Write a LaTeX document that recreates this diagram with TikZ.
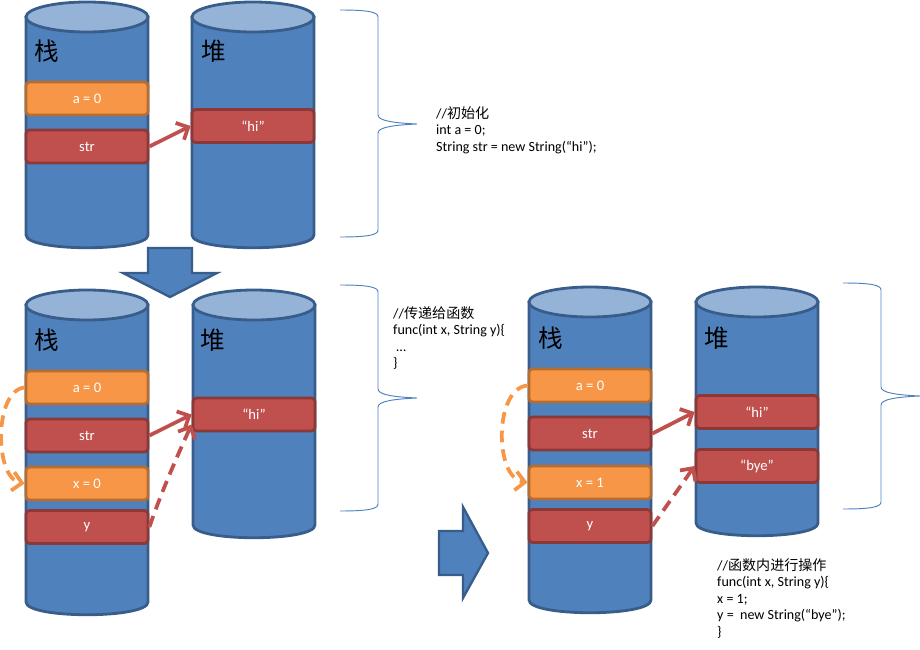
\documentclass[tikz,border=0pt]{standalone}
\usepackage{fontspec}
\setmainfont{Carlito}
\newfontfamily\cjk{Noto Sans CJK SC}
\usetikzlibrary{arrows.meta}

\definecolor{barrelfill}{HTML}{4F81BD}
\definecolor{barreledge}{HTML}{385D8A}
\definecolor{lidfill}{HTML}{95B3D7}
\definecolor{orangefill}{HTML}{F79646}
\definecolor{orangeedge}{HTML}{B66D31}
\definecolor{redfill}{HTML}{C0504D}
\definecolor{rededge}{HTML}{8C3836}

\tikzset{
    barrel/.style = {fill=barrelfill, draw=barreledge, line width=2.4pt},
    lid/.style = {fill=lidfill, draw=barreledge, line width=2.4pt},
    cell/.style = {rounded corners=3pt, line width=2.4pt, minimum width=3.66cm,
        minimum height=0.99cm, inner sep=0pt, text=white, font=\fontsize{12.5}{14}\selectfont},
    valcell/.style = {cell, fill=orangefill, draw=orangeedge},
    refcell/.style = {cell, fill=redfill, draw=rededge},
    title/.style = {font=\cjk\fontsize{21}{23}\selectfont, inner sep=0pt},
    code/.style = {anchor=north west, align=left, inner sep=0pt, font=\fontsize{12}{14.2}\selectfont},
    brace/.style = {draw=barrelfill, line width=0.8pt},
    bigarrow/.style = {fill=barrelfill, draw=barreledge, line width=2pt, line join=miter},
    pointer/.style = {draw=redfill, line width=3.2pt, -{Straight Barb[length=8pt, width=16pt]}},
    passing/.style = {draw=orangefill, line width=3.2pt, dash pattern=on 10pt off 6pt,
        -{Straight Barb[length=8pt, width=16pt]}},
}

\begin{document}
\begin{tikzpicture}[x=0.03cm, y=-0.03cm]
    \useasboundingbox (0, 0) rectangle (920, 650);
    \newcommand{\barrel}[3]{% centre x, top y, bottom y
        \draw[barrel] (#1-61, #2) -- (#1-61, #3) .. controls (#1-61, #3+17) and (#1+61, #3+17) .. (#1+61, #3) -- (#1+61, #2) -- cycle;
        \draw[lid] (#1, #2) ellipse [x radius=61, y radius=15];
    }
    \newcommand{\curly}[5]{% end x, top y, tip y, bottom y, tip x
        \draw[brace] (#1, #2) .. controls (#1+28, #2) and (#1+38, #2+2) .. (#1+38, #2+7) -- (#1+38, #3-9)
            .. controls (#1+38, #3-3) and (#1+55, #3-1) .. (#5, #3)
            .. controls (#1+55, #3+1) and (#1+38, #3+3) .. (#1+38, #3+9) -- (#1+38, #4-7)
            .. controls (#1+38, #4-2) and (#1+28, #4) .. (#1, #4);
    }

    % initialisation
    \barrel{87}{17}{235}
    \barrel{253}{17}{235}
    \node[title] (stack1) at (47, 51) {栈};
    \node[title] (heap1) at (214, 51) {堆};
    \node[valcell] (s1a) at (87, 98.5) {a = 0};
    \node[refcell] (s1str) at (87, 146.5) {str};
    \node[refcell] (h1hi) at (253, 126) {“hi”};
    \draw[pointer] (s1str.east) -- (h1hi.west);
    \curly{340}{10}{124}{237}{417}
    \node[code] (init) at (436, 106) {//{\cjk 初始化}\\int a = 0;\\String str = new String(“hi”);};

    \draw[bigarrow] (148, 248) -- (192, 248) -- (192, 273) -- (217, 273) -- (170, 297) -- (123, 273) -- (148, 273) -- cycle;

    % passing to the function
    \barrel{87}{305}{602}
    \barrel{254}{305}{525}
    \node[title] (stack2) at (47, 340) {栈};
    \node[title] (heap2) at (213, 340) {堆};
    \node[valcell] (s2a) at (87, 387.5) {a = 0};
    \node[refcell] (s2str) at (87, 435.5) {str};
    \node[valcell] (s2x) at (87, 483.5) {x = 0};
    \node[refcell] (s2y) at (87, 527) {y};
    \node[refcell] (h2hi) at (254, 414.5) {“hi”};
    \draw[pointer] (s2str.east) -- (h2hi.west);
    \draw[pointer, dash pattern=on 10pt off 6pt] (s2y.east) .. controls (162, 490) and (180, 450) .. ([yshift=-0.3cm]h2hi.west);
    \draw[passing] (s2a.west) .. controls (-6, 390) and (-6, 478) .. (s2x.west);
    \curly{340}{285}{398}{511}{417}
    \node[code] (pass) at (393, 306) {//{\cjk 传递给函数}\\func(int x, String y)\{\\\ \ldots\\\}};

    \draw[bigarrow] (439, 531) -- (463, 531) -- (463, 507) -- (488, 553) -- (463, 598) -- (463, 575) -- (439, 575) -- cycle;

    % inside the function
    \barrel{590}{302}{600}
    \barrel{757}{302}{523}
    \node[title] (stack3) at (551, 338) {栈};
    \node[title] (heap3) at (717, 338) {堆};
    \node[valcell] (s3a) at (590, 385.5) {a = 0};
    \node[refcell] (s3str) at (590, 433.5) {str};
    \node[valcell] (s3x) at (590, 482.5) {x = 1};
    \node[refcell] (s3y) at (590, 526) {y};
    \node[refcell] (h3hi) at (757, 412) {“hi”};
    \node[refcell] (h3bye) at (757, 466) {“bye”};
    \draw[pointer] (s3str.east) -- (h3hi.west);
    \draw[pointer, dash pattern=on 10pt off 6pt] (s3y.east) -- (h3bye.west);
    \draw[passing] (s3a.west) .. controls (494, 388) and (494, 478) .. (s3x.west);
    \curly{843}{283}{396}{509}{920}
    \node[code] (work) at (717, 558) {//{\cjk 函数内进行操作}\\func(int x, String y)\{\\x = 1;\\y = \ new String(“bye”);\\\}};
\end{tikzpicture}
\end{document}
